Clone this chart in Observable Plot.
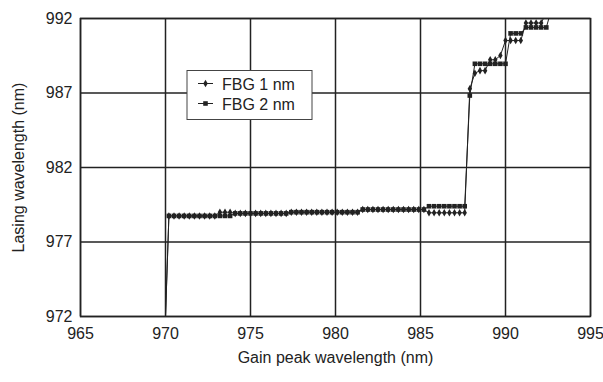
<!DOCTYPE html>
<html><head><meta charset="utf-8">
<script src="https://cdn.jsdelivr.net/npm/d3@7"></script>
<script src="https://cdn.jsdelivr.net/npm/@observablehq/plot@0.6"></script>
<style>body{margin:0;background:#fff;} #chart{width:603px;height:382px;}</style>
</head><body><div id="chart"></div>
<script>
const gainPeak = [970.0, 970.2, 970.5, 970.8, 971.1, 971.4, 971.7, 972.0, 972.3, 972.6, 972.9, 973.2, 973.5, 973.8, 974.1, 974.4, 974.7, 975.0, 975.3, 975.6, 975.9, 976.2, 976.5, 976.8, 977.1, 977.4, 977.7, 978.0, 978.3, 978.6, 978.9, 979.2, 979.5, 979.8, 980.1, 980.4, 980.7, 981.0, 981.3, 981.6, 981.9, 982.2, 982.5, 982.8, 983.1, 983.4, 983.7, 984.0, 984.3, 984.6, 984.9, 985.2, 985.5, 985.8, 986.1, 986.4, 986.7, 987.0, 987.3, 987.6, 987.9, 988.2, 988.5, 988.8, 989.1, 989.4, 989.7, 990.0, 990.3, 990.6, 990.9, 991.2, 991.5, 991.8, 992.1, 992.4, 992.7];
const fbg1 = [972.0,
  978.75, 978.75, 978.75, 978.75, 978.75, 978.75, 978.75, 978.75, 978.75, 978.75,
  979.0, 979.0, 979.0,
  978.92, 978.92, 978.92, 978.92, 978.92, 978.92, 978.92, 978.92, 978.92, 978.92, 978.92,
  979.0, 979.0, 979.0, 979.0, 979.0, 979.0, 979.0, 979.0, 979.0, 979.0, 979.0, 979.0, 979.0, 979.0,
  979.18, 979.18, 979.18, 979.18, 979.18, 979.18, 979.18, 979.18, 979.18, 979.18, 979.18, 979.18, 979.18,
  978.96, 978.96, 978.96, 978.96, 978.96, 978.96, 978.96, 978.96,
  987.28, 988.33, 988.5, 988.5, 989.23, 989.23, 989.52,
  990.52, 990.52, 990.52, 990.52,
  991.7, 991.7, 991.7, 991.7,
  992.4, 992.6];
const fbg2 = [972.0,
  978.75, 978.75, 978.75, 978.75, 978.75, 978.75, 978.75, 978.75, 978.75, 978.75, 978.75, 978.75, 978.75,
  978.92, 978.92, 978.92, 978.92, 978.92, 978.92, 978.92, 978.92, 978.92, 978.92, 978.92,
  979.0, 979.0, 979.0, 979.0, 979.0, 979.0, 979.0, 979.0, 979.0, 979.0, 979.0, 979.0, 979.0, 979.0,
  979.18, 979.18, 979.18, 979.18, 979.18, 979.18, 979.18, 979.18, 979.18, 979.18, 979.18, 979.18, 979.18,
  979.4, 979.4, 979.4, 979.4, 979.4, 979.4, 979.4, 979.4,
  986.83, 988.96, 988.96, 988.96, 988.96, 988.96, 988.96, 988.96,
  991.0, 991.0, 991.0,
  991.4, 991.4, 991.4, 991.4, 991.4,
  992.6];
const xTicks = [965, 970, 975, 980, 985, 990, 995];
const yTicks = [972, 977, 982, 987, 992];
const seriesNames = ["FBG 1 nm", "FBG 2 nm"];
const xTitle = "Gain peak wavelength (nm)";
const yTitle = "Lasing wavelength (nm)";

const rows1 = gainPeak.map((x, i) => ({x, y: fbg1[i]}));
const rows2 = gainPeak.map((x, i) => ({x, y: fbg2[i]}));
const font = "'Liberation Sans', Arial, sans-serif";
const ink = "#222";

const chart = Plot.plot({
  width: 603, height: 382,
  marginLeft: 80, marginRight: 13, marginTop: 18, marginBottom: 66,
  style: {fontFamily: font, fontSize: "16px", color: ink, background: "#fff", overflow: "visible"},
  x: {domain: [965, 995], ticks: xTicks},
  y: {domain: [972, 992], ticks: yTicks},
  marks: [
    Plot.gridX(xTicks, {stroke: ink, strokeOpacity: 1, strokeWidth: 1.5}),
    Plot.gridY(yTicks, {stroke: ink, strokeOpacity: 1, strokeWidth: 1.5}),
    Plot.frame({stroke: ink, strokeWidth: 1.5}),
    Plot.axisX(xTicks, {tickSize: 0, tickPadding: 11, label: null, fontSize: 16, fill: ink}),
    Plot.axisY(yTicks, {tickSize: 0, tickPadding: 8, label: null, fontSize: 16, fill: ink}),
    Plot.line(rows1, {x: "x", y: "y", stroke: ink, strokeWidth: 1, clip: true}),
    Plot.line(rows2, {x: "x", y: "y", stroke: ink, strokeWidth: 1, clip: true}),
    Plot.dot(rows2.slice(1), {x: "x", y: "y", symbol: "square", r: 2.6, fill: ink, clip: true}),
    Plot.dot(rows1.slice(1), {x: "x", y: "y", symbol: "diamond", r: 2.3, fill: ink, clip: true}),
    Plot.text([xTitle], {text: d => d, frameAnchor: "bottom", dy: 46, fontSize: 16, fill: ink}),
    Plot.text([yTitle], {text: d => d, frameAnchor: "left", dx: -62, rotate: -90, textAnchor: "middle", fontSize: 16, fill: ink})
  ]
});
document.getElementById("chart").appendChild(chart);

// legend
const svg = d3.select(chart);
const g = svg.append("g").attr("font-family", font).attr("font-size", 16).attr("text-anchor", "start");
g.append("rect").attr("x", 187).attr("y", 70.5).attr("width", 125).attr("height", 49)
  .attr("fill", "#fff").attr("stroke", "#444").attr("stroke-width", 1);
const legSyms = [d3.symbolDiamond, d3.symbolSquare];
const legSizes = [17, 21];
seriesNames.forEach((name, i) => {
  const cy = 83.5 + i * 20;
  g.append("line").attr("x1", 198).attr("x2", 213).attr("y1", cy).attr("y2", cy)
    .attr("stroke", ink).attr("stroke-width", 1);
  g.append("path").attr("d", d3.symbol(legSyms[i], legSizes[i])())
    .attr("transform", `translate(205.5,${cy})`).attr("fill", ink);
  g.append("text").attr("x", 222).attr("y", cy + 6).attr("fill", ink).attr("text-anchor", "start").text(name);
});
</script>
</body></html>
